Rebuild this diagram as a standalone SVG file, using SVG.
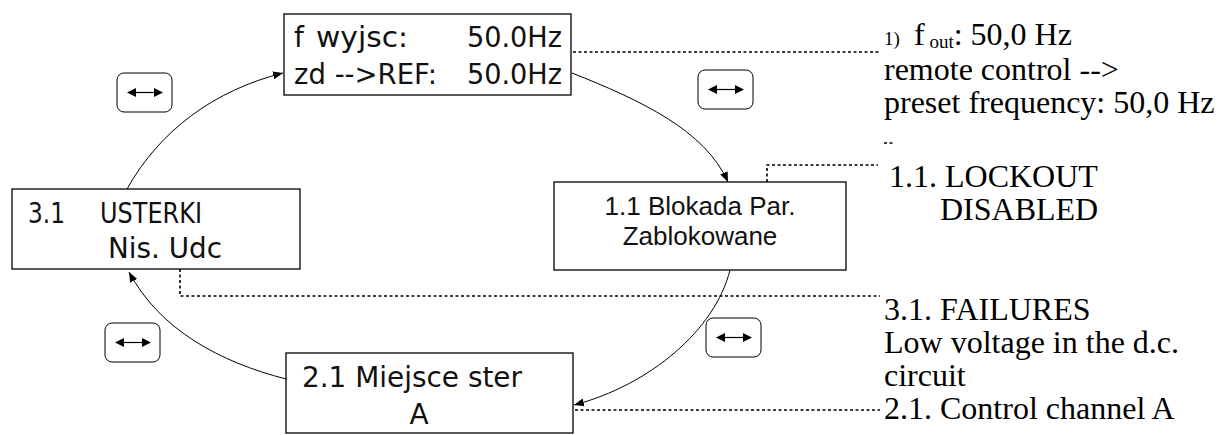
<svg xmlns="http://www.w3.org/2000/svg" width="1223" height="435" viewBox="0 0 1223 435">
  <style>
    .box { fill: #fff; stroke: #000; stroke-width: 1.3; }
    .lcd { font-family: "DejaVu Sans", "Liberation Sans", sans-serif; font-size: 28px; fill: #111; }
    .ar { font-family: "Liberation Sans", Arial, sans-serif; font-size: 26px; fill: #111; }
    .note { font-family: "Liberation Serif", "Times New Roman", serif; font-size: 32px; fill: #000; }
    .small { font-size: 19px; }
    .link { fill: none; stroke: #000; stroke-width: 1; }
    .dot { fill: none; stroke: #000; stroke-width: 1.6; stroke-dasharray: 3 2.5; }
    .key { fill: #fff; stroke: #000; stroke-width: 1; }
  </style>
  <defs>
    <marker id="tip" viewBox="0 0 10 10" refX="10" refY="5" markerWidth="10" markerHeight="10" markerUnits="userSpaceOnUse" orient="auto">
      <path d="M0,1 L10,5 L0,9 Z" fill="#000"/>
    </marker>
    <!-- key symbol: rounded key cap with a double-headed arrow -->
    <g id="keycap">
      <rect class="key" x="0" y="0" width="55" height="39" rx="7" ry="7"/>
      <line x1="14" y1="19.5" x2="41" y2="19.5" stroke="#000" stroke-width="1.2"/>
      <path d="M10,19.5 L19,15 L19,24 Z" fill="#000"/>
      <path d="M46,19.5 L37,15 L37,24 Z" fill="#000"/>
    </g>
  </defs>

  <!-- cycle connectors -->
  <g id="connectors">
    <path class="link" d="M127,189 C160,130 215,90 283,73" marker-end="url(#tip)"/>
    <path class="link" d="M572,73 C640,100 705,130 728,182" marker-end="url(#tip)"/>
    <path class="link" d="M730,270 C715,330 650,385 574,405" marker-end="url(#tip)"/>
    <path class="link" d="M286,379 C220,362 160,330 129,272" marker-end="url(#tip)"/>
    <!-- dotted leaders to the translations -->
    <path class="dot" d="M573,52 H880"/>
    <path class="dot" d="M884,143 H894"/>
    <path class="dot" d="M767,182 V165 H878"/>
    <path class="dot" d="M180,269 V296 H880"/>
    <path class="dot" d="M575,410 H880"/>
  </g>

  <g id="node-fout">
    <rect class="box" x="284" y="14" width="287" height="81"/>
    <text class="lcd" x="294" y="47">f</text>
    <text class="lcd" x="316" y="47" textLength="92" lengthAdjust="spacingAndGlyphs">wyjsc:</text>
    <text class="lcd" x="467" y="47" textLength="95" lengthAdjust="spacingAndGlyphs">50.0Hz</text>
    <text class="lcd" x="294" y="84" textLength="143" lengthAdjust="spacingAndGlyphs">zd --&gt;REF:</text>
    <text class="lcd" x="467" y="84" textLength="95" lengthAdjust="spacingAndGlyphs">50.0Hz</text>
  </g>

  <g id="node-lockout">
    <rect class="box" x="554" y="182" width="292" height="88"/>
    <text class="ar" x="700" y="215" text-anchor="middle">1.1 Blokada Par.</text>
    <text class="ar" x="700" y="245" text-anchor="middle">Zablokowane</text>
  </g>

  <g id="node-failures">
    <rect class="box" x="12" y="189" width="288" height="80"/>
    <text class="lcd" x="28" y="223" textLength="37" lengthAdjust="spacingAndGlyphs">3.1</text>
    <text class="lcd" x="100" y="223" textLength="102" lengthAdjust="spacingAndGlyphs">USTERKI</text>
    <text class="lcd" x="108" y="258" textLength="114" lengthAdjust="spacingAndGlyphs">Nis. Udc</text>
  </g>

  <g id="node-channel">
    <rect class="box" x="286" y="353" width="287" height="80"/>
    <text class="lcd" x="302" y="387" textLength="220" lengthAdjust="spacingAndGlyphs">2.1 Miejsce ster</text>
    <text class="lcd" x="419" y="424" text-anchor="middle">A</text>
  </g>

  <g id="keys">
    <use href="#keycap" x="117" y="73"/>
    <use href="#keycap" x="698" y="70"/>
    <use href="#keycap" x="105" y="323"/>
    <use href="#keycap" x="706" y="318"/>
  </g>

  <g id="notes">
    <text class="note" x="884" y="45"><tspan class="small">1)</tspan><tspan x="914">f</tspan><tspan class="small" dy="3"> out</tspan><tspan dy="-3">: 50,0 Hz</tspan></text>
    <text class="note" x="884" y="80">remote control --&gt;</text>
    <text class="note" x="884" y="113">preset frequency: 50,0 Hz</text>
    <text class="note" x="889" y="187">1.1. LOCKOUT</text>
    <text class="note" x="940" y="220">DISABLED</text>
    <text class="note" x="884" y="320">3.1. FAILURES</text>
    <text class="note" x="884" y="353">Low voltage in the d.c.</text>
    <text class="note" x="884" y="386">circuit</text>
    <text class="note" x="884" y="419">2.1. Control channel A</text>
  </g>
</svg>
